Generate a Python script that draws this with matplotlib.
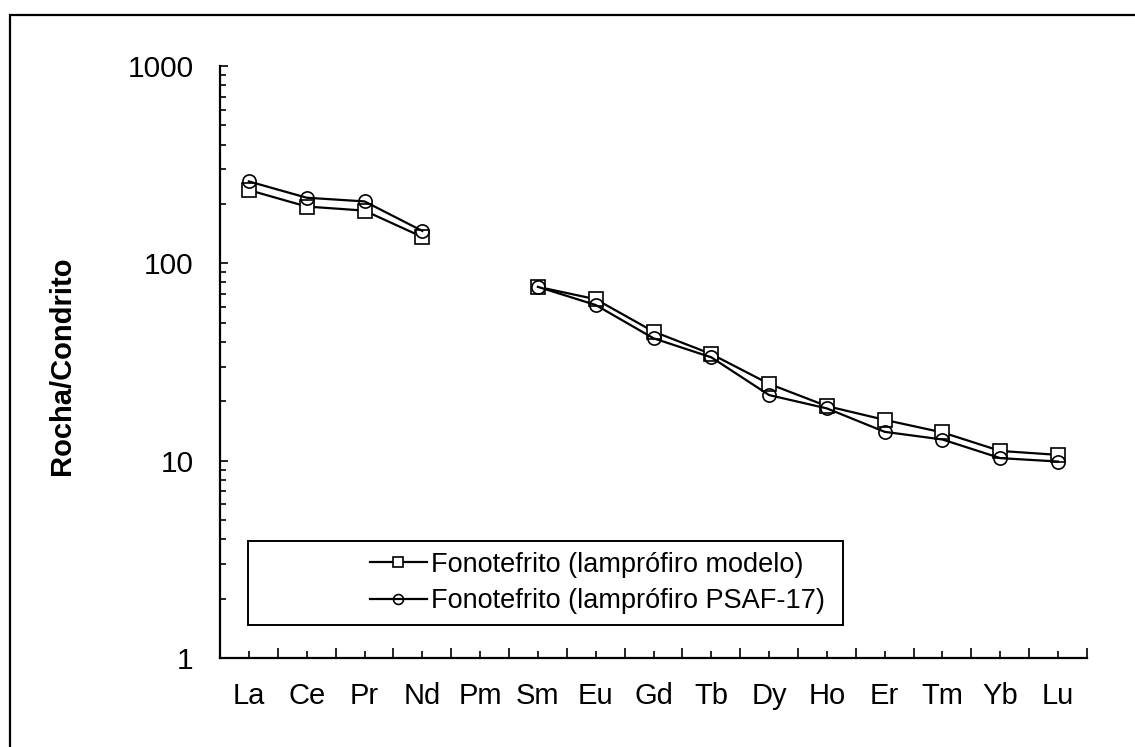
import numpy as np
import matplotlib.pyplot as plt
from matplotlib.patches import Rectangle
from matplotlib.ticker import FixedLocator, NullFormatter

plt.rcParams['font.family'] = ['Liberation Sans', 'DejaVu Sans']

elementos = ['La', 'Ce', 'Pr', 'Nd', 'Pm', 'Sm', 'Eu', 'Gd', 'Tb', 'Dy',
             'Ho', 'Er', 'Tm', 'Yb', 'Lu']
# valores normalizados ao condrito (Pm sem dado)
modelo = [235, 194, 185, 136, None, 76, 65.8, 45.1, 34.7, 24.5,
          18.9, 16.1, 13.9, 11.2, 10.7]
psaf17 = [260, 215, 206, 146, None, 76, 61.5, 41.7, 33.4, 21.5,
          18.4, 14.0, 12.8, 10.3, 9.9]
rotulos = ['Fonotefrito (lamprófiro modelo)', 'Fonotefrito (lamprófiro PSAF-17)']


def segmentos(vals):
    # separa a série onde falta valor, como o Excel faz
    x = np.arange(len(vals), dtype=float)
    y = np.array([np.nan if v is None else v for v in vals], dtype=float)
    return x, y


fig = plt.figure(figsize=(11.35, 7.47), dpi=100)
ax = fig.add_axes([220 / 1135, 1 - 658 / 747, 867 / 1135, 592 / 747])

x, y1 = segmentos(modelo)
_, y2 = segmentos(psaf17)
ax.plot(x, y1, color='black', lw=1.6, marker='s', ms=9.5, mfc='white',
        mec='black', mew=1.2, label=rotulos[0])
ax.plot(x, y2, color='black', lw=1.6, marker='o', ms=9.5, mfc='none',
        mec='black', mew=1.2, label=rotulos[1])

ax.set_yscale('log')
ax.set_ylim(1, 1000)
ax.set_xlim(-0.5, len(elementos) - 0.5)

ax.set_xticks(np.arange(len(elementos)))
ax.set_xticklabels(elementos, fontsize=21)
ax.xaxis.set_minor_locator(FixedLocator(np.arange(-0.5, len(elementos), 1.0)))
ax.tick_params(axis='x', which='major', direction='in', length=5, width=1.2,
               pad=17)
ax.tick_params(axis='x', which='minor', direction='in', length=7, width=1.2)

ax.set_yticks([1, 10, 100, 1000])
ax.set_yticklabels(['1', '10', '100', '1000'], fontsize=21.5)
ax.yaxis.set_minor_formatter(NullFormatter())
ax.tick_params(axis='y', which='major', direction='in', length=6, width=1.2,
               pad=19)
ax.tick_params(axis='y', which='minor', direction='in', length=4, width=1.2)

for lado in ['top', 'right']:
    ax.spines[lado].set_visible(False)
for lado in ['left', 'bottom']:
    ax.spines[lado].set_linewidth(1.6)

ax.set_ylabel('Rocha/Condrito', fontsize=21, fontweight='bold')
ax.yaxis.set_label_coords(-0.166, 0.493)

# caixa da legenda desenhada à parte; entradas deslocadas para a direita
ax.add_patch(Rectangle((28 / 867, 33 / 592), 595 / 867, 84 / 592,
                       transform=ax.transAxes, fill=False, edgecolor='black',
                       lw=1.4, zorder=3))
leg = ax.legend(loc='center left', bbox_to_anchor=(150 / 867, 75 / 592),
                fontsize=19.5, frameon=False, handlelength=2.1,
                handletextpad=0.15, labelspacing=0.4, borderpad=0,
                borderaxespad=0, markerscale=0.75)

# moldura externa do gráfico
fig.patches.append(Rectangle((10 / 1135, -0.05), 1.1, 1.05 - 15 / 747,
                             transform=fig.transFigure, fill=False,
                             edgecolor='black', lw=1.6))

fig.savefig('out.png', dpi=100)
